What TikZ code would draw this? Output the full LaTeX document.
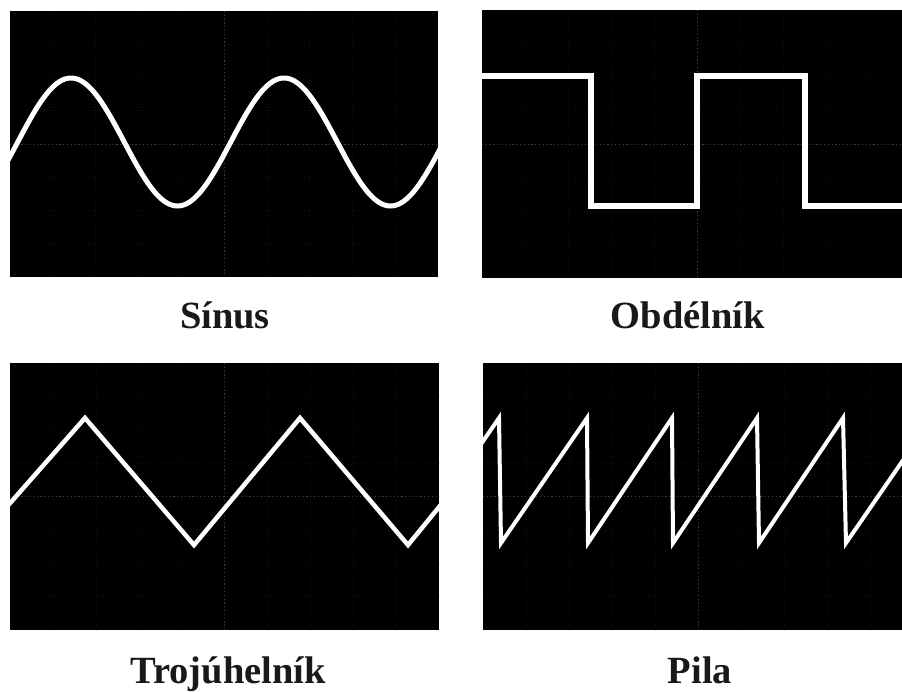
\documentclass[tikz,border=0pt]{standalone}
\usepackage{fontspec}
\setmainfont{Liberation Serif}
\begin{document}
\begin{tikzpicture}[x=1pt,y=-1pt,
  panel/.style={fill=black,draw=none},
  wave/.style={draw=white,line join=miter,line cap=butt},
  lbl/.style={anchor=base,inner sep=0pt,font=\fontsize{38.5}{40}\selectfont\bfseries,text=black!90},
  faint/.style={draw={rgb,255:red,16;green,16;blue,16},line width=0.6pt,dash pattern=on 1pt off 2pt},
  centre/.style={draw={rgb,255:red,60;green,60;blue,60},line width=0.9pt,dash pattern=on 1.2pt off 2.6pt}]
\fill[white] (0,0) rectangle (902,691);
\useasboundingbox (0,0) rectangle (902,691);
\newcommand{\panelgrid}[4]{%
  \foreach \i in {1,...,9}{\draw[faint] ({#1+(#3-#1)*\i/10},#2) -- ({#1+(#3-#1)*\i/10},#4);}
  \foreach \j in {1,...,7}{\draw[faint] (#1,{#2+(#4-#2)*\j/8}) -- (#3,{#2+(#4-#2)*\j/8});}
  \draw[centre] ({(#1+#3)/2},#2) -- ({(#1+#3)/2},#4);
  \draw[centre] (#1,{(#2+#4)/2}) -- (#3,{(#2+#4)/2});
}
% panels
\fill[panel] (10,11) rectangle (438,277);
\fill[panel] (482,10) rectangle (902,278);
\fill[panel] (10,363) rectangle (439,630);
\fill[panel] (483,363) rectangle (902,630);
\begin{scope}\clip (10,11) rectangle (438,277);\panelgrid{10}{11}{438}{277}\end{scope}
\begin{scope}\clip (482,10) rectangle (902,278);\panelgrid{482}{10}{912}{278}\end{scope}
\begin{scope}\clip (10,363) rectangle (439,630);\panelgrid{10}{363}{439}{630}\end{scope}
\begin{scope}\clip (483,363) rectangle (902,630);\panelgrid{483}{363}{913}{630}\end{scope}
% sine
\begin{scope}
\clip (10,11) rectangle (438,277);
\draw[wave,line width=5pt] plot[domain=8:440,samples=220,smooth] (\x,{142-64*cos((\x-71)/213*360)});
\end{scope}
% square
\begin{scope}
\clip (482,10) rectangle (902,278);
\draw[wave,line width=6pt] (478,76) -- (591,76) -- (591,206) -- (697,206) -- (697,76) -- (805,76) -- (805,206) -- (906,206);
\end{scope}
% triangle
\begin{scope}
\clip (10,363) rectangle (439,630);
\draw[wave,line width=4.5pt] (4,510) -- (85,418) -- (194,545) -- (300,418) -- (408,545) -- (444,501);
\end{scope}
% sawtooth
\begin{scope}
\clip (483,363) rectangle (902,630);
\draw[wave,line width=4pt] (479,447) -- (499,418) -- (501,543) -- (587,418) -- (588,543) -- (672,418) -- (673,543) -- (757,418) -- (759,543) -- (843,418) -- (846,543) -- (908,453);
\end{scope}
% labels
\node[lbl] (sinus) at (225,328) {Sínus};
\node[lbl] (obdelnik) at (688,328) {Obdélník};
\node[lbl] (troj) at (228,683) {Trojúhelník};
\node[lbl] (pila) at (700,683) {Pila};
\end{tikzpicture}
\end{document}
